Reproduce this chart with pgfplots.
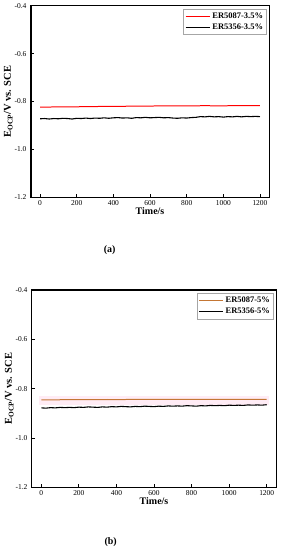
\documentclass[border=0pt]{standalone}
\usepackage{pgfplots}
\pgfplotsset{compat=1.18}
\usepackage{fontspec}
\setmainfont{Liberation Serif}
\definecolor{orng}{RGB}{196,118,52}
\definecolor{pinkband}{RGB}{255,236,245}
\pgfplotsset{
  ocpstyle/.style={
    scale only axis, clip=false,
    xmin=-50, xmax=1250, ymin=-1.2, ymax=-0.4,
    xtick={0,200,...,1200}, ytick={-1.2,-1.0,-0.8,-0.6,-0.4},
    tick align=inside, xtick pos=bottom, ytick pos=left,
    major tick length=3pt,
    tick style={black, line width=0.8pt},
    axis line style={line width=1.2pt},
    /pgf/number format/assume math mode=true,
    yticklabel style={/pgf/number format/fixed, /pgf/number format/fixed zerofill, /pgf/number format/precision=1, font=\fontsize{7.5}{8}\selectfont, xshift=-1pt},
    xticklabel style={font=\fontsize{7.5}{8}\selectfont, /pgf/number format/set thousands separator={}},
    xlabel={\textbf{Time/s}}, ylabel={\textbf{E\textsubscript{OCP}/V vs. SCE}},
    xlabel style={font=\fontsize{10}{11}\selectfont, yshift=5pt},
    ylabel style={font=\fontsize{10.5}{11}\selectfont, yshift=-5pt},
    legend style={at={(0.99,0.985)}, anchor=north east, font=\bfseries\fontsize{8.5}{9.5}\selectfont, draw=gray!70, inner sep=1.5pt, row sep=0.5pt, line width=0.6pt},
    legend cell align=left,
    legend image code/.code={\draw[##1, line width=1.1pt] (0cm,0cm) -- (0.85cm,0cm);},
  }
}
\begin{document}
\begin{tikzpicture}
\path (0pt,0pt) rectangle (283pt,550pt);
% (a)
\begin{axis}[ocpstyle, at={(31pt,353pt)}, anchor=south west, width=239pt, height=192pt]
\addplot[red, line width=1pt] coordinates {
(0,-0.823) (50,-0.823) (100,-0.822) (150,-0.822) (200,-0.822) (250,-0.821) (300,-0.821) (350,-0.820) (400,-0.820) (450,-0.820) (500,-0.819) (550,-0.819) (600,-0.819) (650,-0.818) (700,-0.818) (750,-0.818) (800,-0.818) (850,-0.818) (900,-0.817) (950,-0.818) (1000,-0.818) (1050,-0.817) (1100,-0.817) (1150,-0.817) (1200,-0.817)};
\addlegendentry{ER5087-3.5\%}
\addplot[black, line width=1.1pt] coordinates {
(0,-0.872) (25,-0.871) (50,-0.873) (75,-0.871) (100,-0.872) (125,-0.870) (150,-0.871) (175,-0.873) (200,-0.870) (225,-0.871) (250,-0.869) (275,-0.871) (300,-0.869) (325,-0.870) (350,-0.868) (375,-0.870) (400,-0.868) (425,-0.867) (450,-0.869) (475,-0.868) (500,-0.870) (525,-0.867) (550,-0.868) (575,-0.866) (600,-0.868) (625,-0.867) (650,-0.866) (675,-0.868) (700,-0.867) (725,-0.869) (750,-0.870) (775,-0.868) (800,-0.869) (825,-0.867) (850,-0.866) (875,-0.863) (900,-0.864) (925,-0.862) (950,-0.864) (975,-0.863) (1000,-0.865) (1025,-0.863) (1050,-0.864) (1075,-0.862) (1100,-0.864) (1125,-0.862) (1150,-0.863) (1175,-0.862) (1200,-0.863)};
\addlegendentry{ER5356-3.5\%}
\end{axis}
\node[font=\bfseries\fontsize{10}{11}\selectfont] at (110pt,300pt) {(a)};
% (b)
\begin{axis}[ocpstyle, at={(32pt,62pt)}, anchor=south west, width=245pt, height=198pt]
\addplot[pinkband, line width=10pt, forget plot] coordinates {(-10,-0.848) (1210,-0.848)};
\addplot[orng, line width=1pt] coordinates {
(0,-0.846) (50,-0.846) (100,-0.845) (150,-0.845) (200,-0.845) (250,-0.845) (300,-0.845) (350,-0.844) (400,-0.845) (450,-0.844) (500,-0.844) (550,-0.844) (600,-0.844) (650,-0.844) (700,-0.843) (750,-0.844) (800,-0.843) (850,-0.843) (900,-0.843) (950,-0.843) (1000,-0.843) (1050,-0.843) (1100,-0.843) (1150,-0.843) (1200,-0.843)};
\addlegendentry{ER5087-5\%}
\addplot[black, line width=1.1pt] coordinates {
(0,-0.878) (25,-0.879) (50,-0.877) (75,-0.878) (100,-0.876) (125,-0.877) (150,-0.876) (175,-0.877) (200,-0.875) (225,-0.876) (250,-0.874) (275,-0.875) (300,-0.876) (325,-0.874) (350,-0.875) (375,-0.873) (400,-0.874) (425,-0.872) (450,-0.873) (475,-0.874) (500,-0.872) (525,-0.873) (550,-0.871) (575,-0.872) (600,-0.873) (625,-0.871) (650,-0.872) (675,-0.870) (700,-0.871) (725,-0.870) (750,-0.871) (775,-0.869) (800,-0.870) (825,-0.871) (850,-0.869) (875,-0.870) (900,-0.868) (925,-0.869) (950,-0.868) (975,-0.869) (1000,-0.867) (1025,-0.868) (1050,-0.867) (1075,-0.868) (1100,-0.866) (1125,-0.867) (1150,-0.866) (1175,-0.867) (1200,-0.865)};
\addlegendentry{ER5356-5\%}
\end{axis}
\node[font=\bfseries\fontsize{10}{11}\selectfont] at (111pt,7pt) {(b)};
\end{tikzpicture}
\end{document}
